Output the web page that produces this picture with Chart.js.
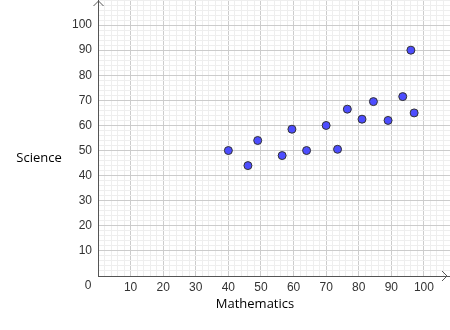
<!DOCTYPE html>
<html>
<head>
<meta charset="utf-8">
<script src="https://cdn.jsdelivr.net/npm/chart.js@4.4.0/dist/chart.umd.min.js"></script>
<style>
  html, body { margin: 0; padding: 0; background: #fff; }
  #wrap { width: 450px; height: 330px; }
</style>
</head>
<body>
<div id="wrap"><canvas id="chart"></canvas></div>
<script>
// Scores
const mathScores    = [40, 46, 49, 56.5, 59.5, 64, 70, 73.5, 76.5, 81, 84.5, 89, 93.5, 96, 97];
const scienceScores = [50, 44, 54, 48, 58.5, 50, 60, 50.5, 66.5, 62.5, 69.5, 62, 71.5, 90, 65];
const xTickLabels = [10, 20, 30, 40, 50, 60, 70, 80, 90, 100];
const yTickLabels = [10, 20, 30, 40, 50, 60, 70, 80, 90, 100];

const points = mathScores.map((m, i) => ({ x: m, y: scienceScores[i] }));

const MAJOR = '#cccccc';
const MINOR = '#eeeeee';
const tickFont = { family: 'Liberation Sans, Arial, sans-serif', size: 12 };

function gridColor(labels) {
    return function(ctx) {
        const v = ctx.tick && ctx.tick.value;
        return labels.includes(v) ? MAJOR : MINOR;
    };
}

// stop the scales from reserving room for half labels at the ends
function noEndPadding(scale) {
    scale.paddingTop = 0;
    scale.paddingBottom = 0;
    scale.paddingLeft = 0;
    scale.paddingRight = 0;
}

// extra drawing: axis arrows, horizontal axis titles and the origin label
const extras = {
    id: 'extras',
    afterDraw(chart) {
        const c = chart.ctx;
        const area = chart.chartArea;
        const x0 = chart.scales.x.getPixelForValue(0);
        const y0 = chart.scales.y.getPixelForValue(0);
        c.save();
        c.strokeStyle = '#555';
        c.lineWidth = 1;
        c.beginPath();
        c.moveTo(x0 - 4.5, area.top + 6);
        c.lineTo(x0 + 0.5, area.top + 1);
        c.lineTo(x0 + 5.5, area.top + 6);
        c.moveTo(area.right - 8, y0 - 5);
        c.lineTo(area.right - 3, y0);
        c.lineTo(area.right - 8, y0 + 5);
        c.stroke();

        c.fillStyle = '#333';
        c.font = '12px "Liberation Sans", Arial, sans-serif';
        c.textAlign = 'center';
        c.textBaseline = 'middle';
        c.fillText('0', 88, 286);

        c.fillStyle = '#000';
        c.font = '13px "Open Sans", sans-serif';
        c.fillText('Science', 39, 158);
        c.fillText('Mathematics', 255, 304);
        c.restore();
    }
};

new Chart(document.getElementById('chart'), {
    type: 'scatter',
    data: {
        datasets: [{
            data: points,
            backgroundColor: '#4d4dff',
            borderColor: '#333333',
            borderWidth: 1,
            pointRadius: 4,
            pointHoverRadius: 4
        }]
    },
    options: {
        responsive: true,
        maintainAspectRatio: false,
        animation: false,
        layout: { padding: 0, autoPadding: false },
        plugins: {
            legend: { display: false },
            tooltip: { enabled: false }
        },
        scales: {
            x: {
                type: 'linear',
                min: 0,
                max: 108,
                afterFit(scale) { scale.height = 54; noEndPadding(scale); },
                border: { color: '#555', width: 1 },
                grid: { color: gridColor(xTickLabels), drawTicks: false },
                ticks: {
                    stepSize: 2,
                    autoSkip: false,
                    maxRotation: 0,
                    padding: 4,
                    color: '#333',
                    font: tickFont,
                    callback: v => xTickLabels.includes(v) ? String(v) : ''
                }
            },
            y: {
                type: 'linear',
                min: 0,
                max: 110,
                afterFit(scale) { scale.width = 98; noEndPadding(scale); },
                border: { color: '#555', width: 1 },
                grid: { color: gridColor(yTickLabels), drawTicks: false },
                ticks: {
                    stepSize: 2,
                    autoSkip: false,
                    padding: 6,
                    color: '#333',
                    font: tickFont,
                    callback: v => yTickLabels.includes(v) ? String(v) : ''
                }
            }
        }
    },
    plugins: [extras]
});
</script>
</body>
</html>
